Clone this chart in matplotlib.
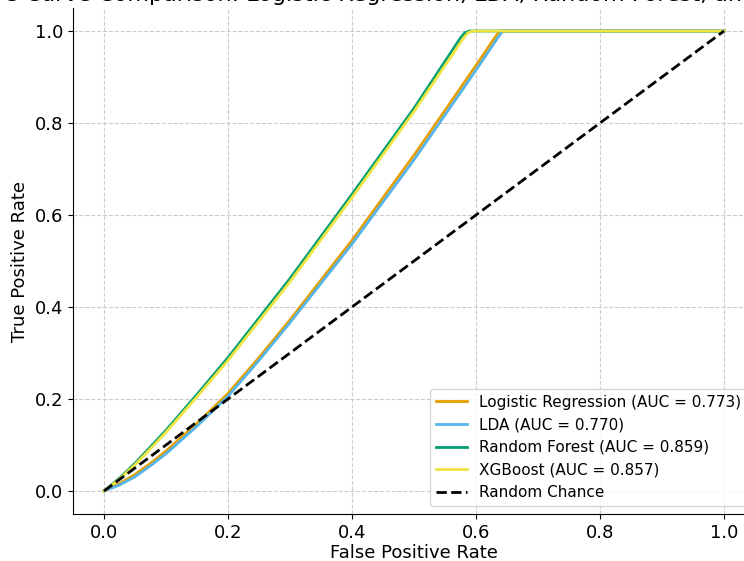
import numpy as np
import matplotlib.pyplot as plt

# ROC points
fpr_lr = [0.0, 0.025, 0.05, 0.075, 0.10, 0.15, 0.20, 0.25, 0.30, 0.40, 0.50, 0.60, 0.630, 0.638, 1.0]
tpr_lr = [0.0, 0.016, 0.036, 0.060, 0.087, 0.147, 0.212, 0.290, 0.372, 0.545, 0.730, 0.925, 0.985, 1.0, 1.0]

fpr_lda = [0.0, 0.025, 0.05, 0.075, 0.10, 0.15, 0.20, 0.25, 0.30, 0.40, 0.50, 0.60, 0.635, 0.643, 1.0]
tpr_lda = [0.0, 0.013, 0.031, 0.055, 0.081, 0.141, 0.206, 0.284, 0.366, 0.537, 0.720, 0.915, 0.985, 1.0, 1.0]

fpr_rf = [0.0, 0.025, 0.05, 0.075, 0.10, 0.15, 0.20, 0.30, 0.40, 0.50, 0.575, 0.582, 0.590, 1.0]
tpr_rf = [0.0, 0.028, 0.060, 0.096, 0.132, 0.210, 0.290, 0.462, 0.645, 0.832, 0.985, 0.996, 1.0, 1.0]

fpr_xgb = [0.0, 0.025, 0.05, 0.075, 0.10, 0.15, 0.20, 0.30, 0.40, 0.50, 0.580, 0.587, 0.595, 1.0]
tpr_xgb = [0.0, 0.026, 0.057, 0.092, 0.128, 0.205, 0.284, 0.455, 0.638, 0.825, 0.985, 0.996, 1.0, 1.0]

labels = ["Logistic Regression (AUC = 0.773)", "LDA (AUC = 0.770)",
          "Random Forest (AUC = 0.859)", "XGBoost (AUC = 0.857)"]
colors = ["#E69F00", "#56B4E9", "#009E73", "#F0E442"]

fig = plt.figure(figsize=(7.44, 5.61), dpi=100)
ax = fig.add_axes([73 / 744, 47 / 561, 682 / 744, 506 / 561])

curves = [(fpr_lr, tpr_lr), (fpr_lda, tpr_lda), (fpr_rf, tpr_rf), (fpr_xgb, tpr_xgb)]
for (x, y), lab, col in zip(curves, labels, colors):
    ax.plot(x, y, color=col, lw=2, label=lab)
ax.plot([0, 1], [0, 1], "k--", lw=2, label="Random Chance")

ax.set_xlim(-0.05, 1.05)
ax.set_ylim(-0.05, 1.05)
ax.set_xticks(np.arange(0, 1.01, 0.2))
ax.set_yticks(np.arange(0, 1.01, 0.2))
ax.tick_params(labelsize=13)
ax.set_xlabel("False Positive Rate", fontsize=13, labelpad=2)
ax.set_ylabel("True Positive Rate", fontsize=13)
ax.set_title("ROC Curve Comparison: Logistic Regression, LDA, Random Forest, and XGBoost",
             fontsize=16, pad=5)
ax.spines["top"].set_visible(False)
ax.spines["right"].set_visible(False)
ax.grid(True, linestyle="--", color="#cccccc", lw=0.8)
ax.legend(loc="lower right", fontsize=11)

fig.savefig("out.png", dpi=100)
